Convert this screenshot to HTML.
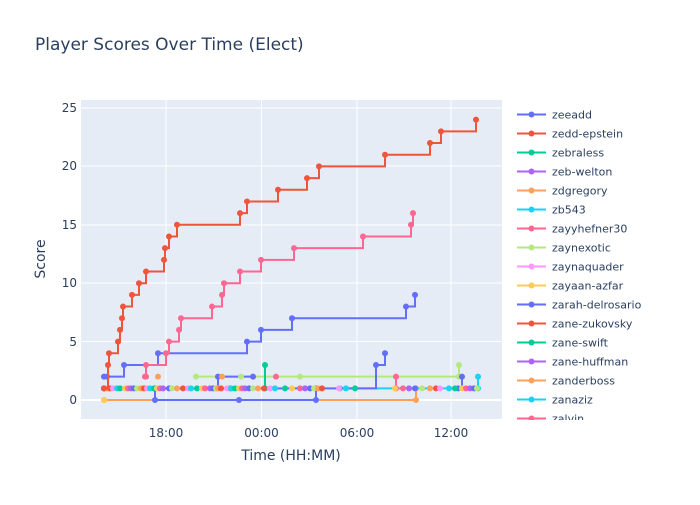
<!DOCTYPE html>
<html><head><meta charset="utf-8"><style>
body{margin:0;background:#fff;}
svg{font-family:"DejaVu Sans","Liberation Sans",sans-serif;}
</style></head><body>
<svg id="s" width="700" height="500" xmlns="http://www.w3.org/2000/svg">
<rect width="700" height="500" fill="#fff"/>
<rect x="81" y="100" width="421" height="319" fill="#E5ECF6"/>
<g stroke="#fff" stroke-width="1">
<line x1="81" x2="502" y1="108" y2="108"/><line x1="81" x2="502" y1="166" y2="166"/>
<line x1="81" x2="502" y1="225" y2="225"/><line x1="81" x2="502" y1="283" y2="283"/>
<line x1="81" x2="502" y1="341.5" y2="341.5"/>
<line x1="166" x2="166" y1="100" y2="419"/><line x1="261.5" x2="261.5" y1="100" y2="419"/>
<line x1="357" x2="357" y1="100" y2="419"/><line x1="451" x2="451" y1="100" y2="419"/>
</g>
<line x1="81" x2="502" y1="400" y2="400" stroke="#fff" stroke-width="2"/>
<g id="plot"></g>
<g fill="#2a3f5f" font-size="12">
<text x="35" y="50" font-size="17">Player Scores Over Time (Elect)</text>
<g text-anchor="end"><text x="77" y="112">25</text><text x="77" y="170">20</text><text x="77" y="229">15</text><text x="77" y="287">10</text><text x="77" y="346">5</text><text x="77" y="404">0</text></g>
<g text-anchor="middle"><text x="166" y="437">18:00</text><text x="261.5" y="437">00:00</text><text x="357" y="437">06:00</text><text x="451" y="437">12:00</text>
<text x="291" y="460" font-size="14">Time (HH:MM)</text>
<text transform="translate(45,259) rotate(-90)" font-size="14">Score</text></g>
</g>
<svg x="505" y="100" width="195" height="320"><g id="leg" font-size="11" fill="#2a3f5f"></g></svg>
</svg>
<script>
const C=["#636EFA","#EF553B","#00CC96","#AB63FA","#FFA15A","#19D3F3","#FF6692","#B6E880","#FF97FF","#FECB52"];
const names=["zeeadd","zedd-epstein","zebraless","zeb-welton","zdgregory","zb543","zayyhefner30","zaynexotic","zaynaquader","zayaan-azfar","zarah-delrosario","zane-zukovsky","zane-swift","zane-huffman","zanderboss","zanaziz","zalvin"];
const NS="http://www.w3.org/2000/svg";
function el(p,t,a){const e=document.createElementNS(NS,t);for(const k in a)e.setAttribute(k,a[k]);p.appendChild(e);return e;}
const plot=document.getElementById("plot");
const Y=v=>400-11.68*v;
function series(pts,c){let d="M"+pts[0][0]+","+Y(pts[0][1]);for(let i=1;i<pts.length;i++){d+="H"+pts[i][0]+"V"+Y(pts[i][1]);}
el(plot,"path",{d:d,fill:"none",stroke:c,"stroke-width":2});pts.forEach(p=>el(plot,"circle",{cx:p[0],cy:Y(p[1]),r:3,fill:c}));}
series([[104,0],[416,0],[416,1]],"#FFA15A");
series([[155,1],[155,0],[239,0],[316,0],[316,1]],"#636EFA");
series([[196,2],[300,2],[459,2],[459,3]],"#B6E880");
series([[340,1],[478,1],[478,2]],"#19D3F3");
series([[230,1],[265,1],[265,3]],"#00CC96");
series([[216,1],[218,2],[253,2]],"#636EFA");
series([[396,1],[396,2]],"#FF6692");
series([[458,1],[462,2]],"#636EFA");
series([[104,1],[376,3],[385,4]],"#636EFA");
const xs=[104,106,108,110,113,117,120,125,128,131,134,137,141,144,147,150,154,157,160,163,169,172,177,183,188,191,197,202,205,210,213,216,218,221,227,231,235,239,242,245,249,253,258,264,270,275,285,292,300,305,310,314,318,322,339,346,355,395,403,409,415,422,430,436,440,449,455,462,466,470,474,477];
xs.forEach((x,i)=>el(plot,"circle",{cx:x,cy:Y(1),r:3,fill:C[(i*7)%10]}));
[[104,0,"#FECB52"],[158,2,"#FFA15A"],[241,2,"#B6E880"],[276,2,"#FF6692"],[222,2,"#FFA15A"],[146,2,"#FF6692"]].forEach(p=>el(plot,"circle",{cx:p[0],cy:Y(p[1]),r:3,fill:p[2]}));
series([[104,2],[107,2],[124,3],[158,4],[247,5],[261,6],[292,7],[406,8],[415,9]],"#636EFA");
series([[145,2],[146,3],[166,4],[169,5],[179,6],[181,7],[212,8],[222,9],[224,10],[240,11],[261,12],[294,13],[363,14],[411,15],[413,16]],"#FF6692");
series([[104,1],[108,3],[109,4],[118,5],[120,6],[122,7],[123,8],[132,9],[139,10],[146,11],[164,12],[165,13],[169,14],[177,15],[240,16],[247,17],[278,18],[307,19],[319,20],[385,21],[430,22],[441,23],[476,24]],"#EF553B");
const leg=document.getElementById("leg");
names.forEach((n,i)=>{const y=14.5+19*i,c=C[i%10];el(leg,"line",{x1:12,x2:41,y1:y,y2:y,stroke:c,"stroke-width":2});el(leg,"circle",{cx:26.5,cy:y,r:3,fill:c});const t=el(leg,"text",{x:47,y:y+4});t.textContent=n;});
</script>
</body></html>
